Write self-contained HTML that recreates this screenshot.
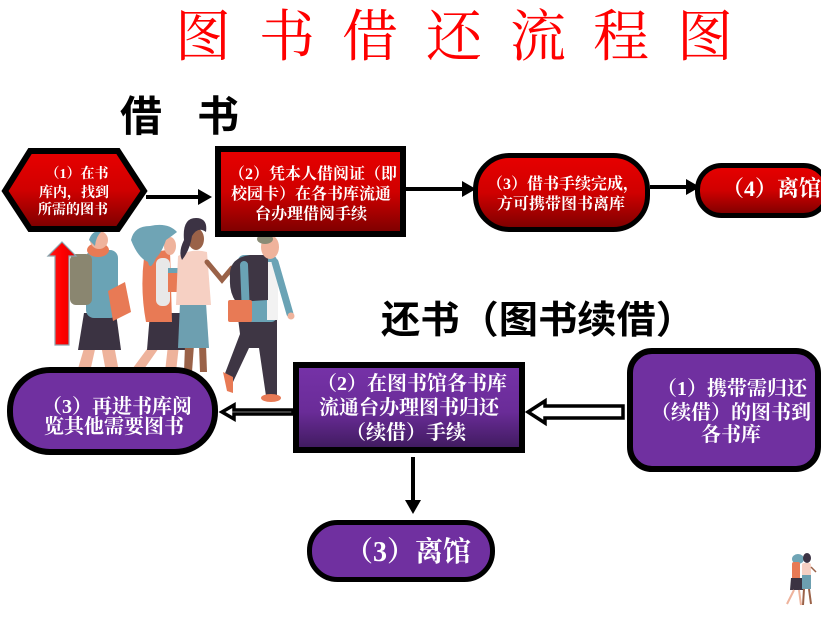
<!DOCTYPE html>
<html>
<head>
<meta charset="utf-8">
<style>
html,body{margin:0;padding:0;background:#fff;}
body{width:821px;height:617px;overflow:hidden;}
svg{display:block;}
.serif{font-family:"Liberation Serif","Noto Serif CJK SC",serif;}
.sans{font-family:"Liberation Sans","Noto Sans CJK SC",sans-serif;}
</style>
</head>
<body>
<svg width="821" height="617" viewBox="0 0 821 617" xmlns="http://www.w3.org/2000/svg">
<defs>
  <linearGradient id="red" x1="0" y1="0" x2="0" y2="1">
    <stop offset="0" stop-color="#e80000"/>
    <stop offset="0.5" stop-color="#d00000"/>
    <stop offset="1" stop-color="#7a0000"/>
  </linearGradient>
  <linearGradient id="pur" x1="0" y1="0" x2="0" y2="1">
    <stop offset="0" stop-color="#7632a8"/>
    <stop offset="0.55" stop-color="#6a2c98"/>
    <stop offset="1" stop-color="#3e1a5c"/>
  </linearGradient>
  <linearGradient id="uparrow" x1="0" y1="0" x2="1" y2="0">
    <stop offset="0" stop-color="#ff1a1a"/>
    <stop offset="0.5" stop-color="#ff0000"/>
    <stop offset="1" stop-color="#e00000"/>
  </linearGradient>
</defs>

<!-- Title -->
<g class="serif" fill="#ff0000" font-size="56" text-anchor="middle">
  <text x="203" y="56">图</text>
  <text x="287" y="56">书</text>
  <text x="370" y="56">借</text>
  <text x="454" y="56">还</text>
  <text x="538" y="56">流</text>
  <text x="621" y="56">程</text>
  <text x="705" y="56">图</text>
</g>

<!-- 借 书 -->
<g class="sans" fill="#000" font-size="42" font-weight="bold" text-anchor="middle">
  <text x="141" y="131">借</text>
  <text x="218" y="131">书</text>
</g>

<!-- 还书（图书续借） -->
<text class="sans" x="381" y="333" font-size="38" font-weight="bold" fill="#000" textLength="314" lengthAdjust="spacingAndGlyphs">还书（图书续借）</text>

<!-- People illustration -->
<g>
  <!-- Person 1 -->
  <polygon points="85,345 96,345 90,372 77,372" fill="#eeb39c"/>
  <polygon points="101,345 114,345 119,372 106,372" fill="#eeb39c"/>
  <polygon points="84,313 116,313 121,350 78,350" fill="#3b3342"/>
  <rect x="86" y="250" width="32" height="68" rx="8" fill="#6aa3b5"/>
  <rect x="70" y="254" width="22" height="51" rx="6" fill="#8a8670"/>
  <ellipse cx="98" cy="250" rx="11" ry="7" fill="#e87a55"/>
  <ellipse cx="99" cy="240" rx="9" ry="9" fill="#efb39c"/>
  <path d="M89,240 Q92,230 102,231 Q96,236 95,246 Z" fill="#6aa3b5"/>
  <polygon points="108,291 125,282 131,312 113,321" fill="#e87a55"/>

  <!-- Person 2 -->
  <polygon points="150,345 161,345 142,372 130,372" fill="#eeb39c"/>
  <polygon points="168,345 179,345 176,372 165,372" fill="#eeb39c"/>
  <polygon points="150,313 183,313 186,350 147,350" fill="#3b3342"/>
  <path d="M144,258 Q155,250 170,250 L172,322 L146,322 Q140,290 144,258 Z" fill="#e87a55"/>
  <rect x="156" y="258" width="14" height="48" rx="6" fill="#e8e8e8"/>
  <ellipse cx="170" cy="246" rx="6" ry="9" fill="#efb39c"/>
  <path d="M131,240 Q134,226 150,226 Q168,222 177,232 Q172,236 166,240 Q162,252 156,258 Q150,272 148,262 Q138,258 131,240 Z" fill="#6fa4b5"/>
  <rect x="168" y="268" width="17" height="24" fill="#e87a55"/>
  <rect x="168" y="268" width="17" height="5" fill="#6aa3b5"/>

  <!-- Person 3 -->
  <polygon points="185,345 194,345 192,372 184,372" fill="#9a6248"/>
  <polygon points="199,345 206,345 207,372 200,372" fill="#9a6248"/>
  <polygon points="180,303 206,303 209,348 178,348" fill="#6d9fb0"/>
  <path d="M178,256 Q192,248 207,252 L211,305 L176,305 Z" fill="#f6d0c3"/>
  <path d="M207,262 L222,280 L232,268" stroke="#9a6248" stroke-width="5" fill="none" stroke-linecap="round"/>
  <ellipse cx="196" cy="239" rx="8" ry="11" fill="#9a6248"/>
  <path d="M184,240 Q182,218 196,218 Q208,218 206,232 Q198,226 192,236 Q190,250 182,260 Q178,252 184,240 Z" fill="#3c3344"/>

  <!-- Person 4 -->
  <path d="M238,318 L277,318 L277,396 L266,396 L259,348 L249,348 L233,382 L224,376 L240,334 Z" fill="#3e3644"/>
  <polygon points="223,372 233,377 233,393 227,391" fill="#e87a55"/>
  <ellipse cx="271" cy="398" rx="10" ry="4" fill="#e87a55"/>
  <rect x="238" y="255" width="39" height="67" rx="6" fill="#6aa3b5"/>
  <rect x="267" y="262" width="11" height="58" fill="#f2f2f2"/>
  <path d="M230,278 Q228,258 250,255 L268,255 L268,300 L236,302 Q229,292 230,278 Z" fill="#3e3644"/>
  <path d="M275,262 L290,314" stroke="#6aa3b5" stroke-width="7" stroke-linecap="round"/>
  <circle cx="291" cy="316" r="3.5" fill="#efb39c"/>
  <ellipse cx="270" cy="247" rx="9" ry="12" fill="#efb39c"/>
  <ellipse cx="265" cy="239" rx="8" ry="5" fill="#8a8c76"/>
  <path d="M244,265 L246,314" stroke="#6aa3b5" stroke-width="8" stroke-linecap="round"/>
  <rect x="228" y="300" width="24" height="22" rx="2" fill="#e87a55"/>
</g>

<!-- Red up arrow -->
<polygon points="62,242 76,256 69,256 69,345 55,345 55,256 48,256" fill="url(#uparrow)" stroke="#8aa4ad" stroke-width="1.2"/>

<!-- Hexagon (1) -->
<polygon points="5,191 30,151 118,151 144,191 118,229 30,229" fill="url(#red)" stroke="#000" stroke-width="6" stroke-linejoin="miter"/>
<g class="serif" fill="#fff" font-size="14" font-weight="bold" text-anchor="middle">
  <text x="77" y="178">（1）在书</text>
  <text x="74" y="197">库内，找到</text>
  <text x="73" y="214">所需的图书</text>
</g>

<!-- Arrow hex -> box2 -->
<line x1="146" y1="197" x2="200" y2="197" stroke="#000" stroke-width="4"/>
<polygon points="212,197 198,189 198,205" fill="#000"/>

<!-- Box 2 red -->
<rect x="218" y="149" width="185" height="85" fill="url(#red)" stroke="#000" stroke-width="6"/>
<g class="serif" fill="#fff" font-size="16" font-weight="bold" text-anchor="middle">
  <text x="313" y="179">（2）凭本人借阅证（即</text>
  <text x="311" y="199">校园卡）在各书库流通</text>
  <text x="311" y="219">台办理借阅手续</text>
</g>

<!-- Arrow box2 -> box3 -->
<line x1="406" y1="189" x2="464" y2="189" stroke="#000" stroke-width="4"/>
<polygon points="476,189 462,181 462,197" fill="#000"/>

<!-- Box 3 pill -->
<rect x="475.5" y="155.5" width="172" height="74" rx="34" fill="url(#red)" stroke="#000" stroke-width="5"/>
<g class="serif" fill="#fff" font-size="16" font-weight="bold" text-anchor="middle">
  <text x="563" y="189">（3）借书手续完成，</text>
  <text x="561" y="209">方可携带图书离库</text>
</g>

<!-- Arrow box3 -> box4 -->
<line x1="650" y1="187" x2="688" y2="187" stroke="#000" stroke-width="4"/>
<polygon points="700,187 686,179 686,195" fill="#000"/>

<!-- Box 4 -->
<rect x="697.5" y="165.5" width="130" height="50" rx="24" fill="url(#red)" stroke="#000" stroke-width="5"/>
<text class="serif" x="722" y="196" font-size="22" font-weight="bold" fill="#fff">（4）离馆</text>

<!-- Left purple pill (3) -->
<rect x="10" y="370" width="205" height="82" rx="40" fill="#7030a0" stroke="#000" stroke-width="6"/>
<g class="serif" fill="#fff" font-size="20" font-weight="bold" text-anchor="middle">
  <text x="117" y="413">（3）再进书库阅</text>
  <text x="114" y="433">览其他需要图书</text>
</g>

<!-- Arrow purple box2 -> left pill -->
<polygon points="222,412 234,405 234,410 293,410 293,414 234,414 234,419" fill="#fff" stroke="#000" stroke-width="3.5" stroke-linejoin="miter"/>

<!-- Purple box 2 -->
<rect x="296" y="365" width="226" height="85" fill="url(#pur)" stroke="#000" stroke-width="6"/>
<g class="serif" fill="#fff" font-size="20" font-weight="bold" text-anchor="middle">
  <text x="412" y="390">（2）在图书馆各书库</text>
  <text x="409" y="414">流通台办理图书归还</text>
  <text x="406" y="439">（续借）手续</text>
</g>

<!-- Arrow right box -> purple box2 -->
<polygon points="528,412 545,401 545,406 623,406 623,418 545,418 545,423" fill="#fff" stroke="#000" stroke-width="3.5" stroke-linejoin="miter"/>

<!-- Right purple box (1) -->
<rect x="630" y="351" width="188" height="118" rx="22" fill="#7030a0" stroke="#000" stroke-width="6"/>
<g class="serif" fill="#fff" font-size="20" font-weight="bold" text-anchor="middle">
  <text x="732" y="395">（1）携带需归还</text>
  <text x="731" y="419">（续借）的图书到</text>
  <text x="731" y="441">各书库</text>
</g>

<!-- Down arrow -->
<line x1="413" y1="457" x2="413" y2="502" stroke="#000" stroke-width="4"/>
<polygon points="413,514 405,500 421,500" fill="#000"/>

<!-- Bottom pill (3) 离馆 -->
<rect x="309.5" y="522.5" width="183" height="57" rx="28" fill="#7030a0" stroke="#000" stroke-width="5"/>
<text class="serif" x="408" y="561" font-size="28" font-weight="bold" fill="#fff" text-anchor="middle">（3）离馆</text>

<!-- Small icon bottom right -->
<g>
  <ellipse cx="798" cy="559" rx="6" ry="5" fill="#6fa4b5"/>
  <rect x="792" y="562" width="8" height="18" rx="2" fill="#e87a55"/>
  <polygon points="791,578 802,578 804,590 790,590" fill="#3b3342"/>
  <line x1="794" y1="590" x2="787" y2="604" stroke="#eeb39c" stroke-width="2"/>
  <line x1="799" y1="590" x2="801" y2="605" stroke="#eeb39c" stroke-width="2"/>
  <ellipse cx="807" cy="558" rx="4" ry="5" fill="#3c3344"/>
  <rect x="802" y="563" width="9" height="13" rx="2" fill="#f6d0c3"/>
  <rect x="802" y="575" width="9" height="14" fill="#6d9fb0"/>
  <line x1="804" y1="589" x2="803" y2="605" stroke="#9a6248" stroke-width="2"/>
  <line x1="809" y1="589" x2="811" y2="604" stroke="#9a6248" stroke-width="2"/>
  <line x1="811" y1="567" x2="816" y2="572" stroke="#9a6248" stroke-width="1.5"/>
</g>
</svg>
</body>
</html>
